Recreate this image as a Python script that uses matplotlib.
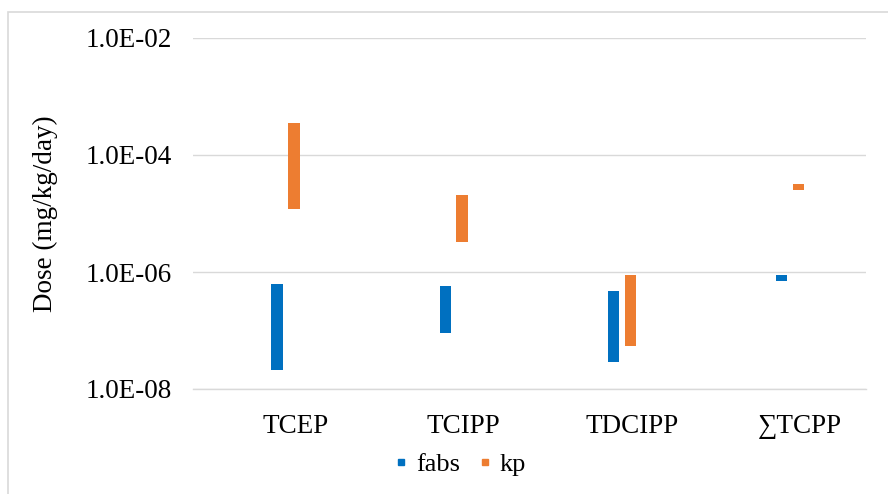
import matplotlib
matplotlib.use("Agg")
import matplotlib.pyplot as plt
import numpy as np
from matplotlib.patches import Rectangle
from matplotlib.lines import Line2D

plt.rcParams['font.family'] = ['Liberation Serif', 'DejaVu Serif']

categories = ['TCEP', 'TCIPP', 'TDCIPP', '\u2211TCPP']
fabs_low = [2.1e-8, 8.9e-8, 2.9e-8, 6.9e-7]
fabs_high = [6.3e-7, 5.8e-7, 4.7e-7, 9.0e-7]
kp_low = [1.19e-5, 3.2e-6, 5.4e-8, 2.5e-5]
kp_high = [3.56e-4, 2.05e-5, 8.8e-7, 3.2e-5]
ytick_vals = [1e-8, 1e-6, 1e-4, 1e-2]

blue = '#0070C0'
orange = '#ED7D31'

fig = plt.figure(figsize=(8.88, 4.94), dpi=100)
ax = fig.add_axes([193 / 888, 105 / 494, 672.7 / 888, 351 / 494])

x = np.arange(len(categories))
w = 0.067
fabs_low = np.array(fabs_low)
kp_low = np.array(kp_low)
ax.bar(x, np.array(fabs_high) - fabs_low, bottom=fabs_low, width=w,
       color=blue, zorder=3)
ax.bar(x + 0.1, np.array(kp_high) - kp_low, bottom=kp_low, width=w,
       color=orange, zorder=3)

ax.set_yscale('log')
ax.set_ylim(1e-8, 1e-2)
ax.set_xlim(-0.5, 3.5)
ax.set_yticks(ytick_vals)
ax.set_yticklabels(['%.1E' % v for v in ytick_vals])
ax.yaxis.set_minor_locator(matplotlib.ticker.NullLocator())
ax.set_xticks(x + 0.11)
ax.set_xticklabels(categories)
ax.tick_params(axis='y', length=0, pad=15, labelsize=19.5, labelcolor='black')
ax.tick_params(axis='x', length=0, pad=18, labelsize=19.5, labelcolor='black')

ax.grid(axis='y', color='#D9D9D9', lw=1, zorder=0)
for s in ax.spines.values():
    s.set_visible(False)
ax.spines['bottom'].set_visible(True)
ax.spines['bottom'].set_color('#D9D9D9')
ax.spines['bottom'].set_linewidth(1)

ax.set_ylabel('Dose (mg/kg/day)', fontsize=19.5)
ax.yaxis.set_label_coords(-0.2, 0.5)

handles = [Line2D([], [], ls='none', marker='s', ms=4.5, color=blue),
           Line2D([], [], ls='none', marker='s', ms=4.5, color=orange)]
ax.legend(handles, ['fabs', 'kp'], loc='center',
          bbox_to_anchor=(461 / 888, (494 - 464) / 494),
          bbox_transform=fig.transFigure, ncol=2, frameon=False,
          fontsize=19, handlelength=0.4, handletextpad=0.35,
          columnspacing=0.75)

# light chart-area border
fig.patches.append(Rectangle((8 / 888, -0.1), 1.2, (494 - 12) / 494 + 0.1,
                             transform=fig.transFigure, fill=False,
                             edgecolor='#D9D9D9', lw=1.2))

fig.savefig('out.png', dpi=100)
